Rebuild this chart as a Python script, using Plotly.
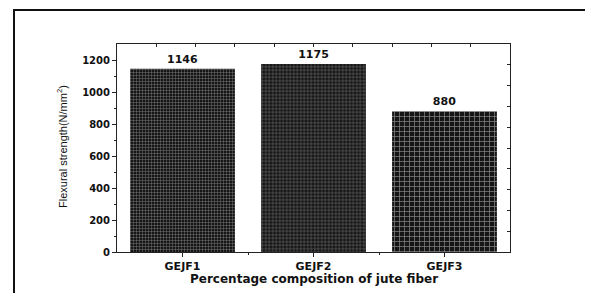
import plotly.graph_objects as go

categories = ["GEJF1", "GEJF2", "GEJF3"]
values = [1146, 1175, 880]
value_labels = ["1146", "1175", "880"]
y_ticks = [0, 200, 400, 600, 800, 1000, 1200]

# page body has an 8px margin; work in page pixels and shift
OFF = 8
W, H = 593 - OFF, 293 - OFF
L, R, T, B = 117 - OFF, 510 - OFF, 44 - OFF, 252 - OFF
PW, PH = R - L, B - T
bold_font = "DejaVu Sans, sans-serif"
reg_font = "Liberation Sans, Arial, sans-serif"


def px(x):
    return (x - OFF - L) / PW


def py(y):
    return (B - (y - OFF)) / PH


xs = list(range(len(categories)))

fig = go.Figure()
fig.add_trace(go.Bar(
    x=xs, y=values, width=0.8,
    text=[f"<b>{t}</b>" for t in value_labels],
    textposition="outside", cliponaxis=False,
    textfont=dict(family=bold_font, size=11, color="#111"),
    marker=dict(
        color="#222",
        line=dict(width=0),
        pattern=dict(shape="+", fillmode="replace", bgcolor="#151515",
                     fgcolor=["#8c8c8c", "#7a7a7a", "#8c8c8c"],
                     size=[3, 3.5, 5], solidity=0.25),
    ),
    showlegend=False,
))
fig.add_trace(go.Scatter(x=[0], y=[0], xaxis="x2", yaxis="y2", mode="markers",
                         marker=dict(opacity=0), showlegend=False, hoverinfo="skip"))

fig.update_layout(
    width=W, height=H,
    margin=dict(l=L, r=W - R, t=T, b=H - B),
    paper_bgcolor="white", plot_bgcolor="white",
    font=dict(family=reg_font, color="#111"),
    xaxis=dict(
        range=[-0.5, 2.5], tickmode="array", tickvals=xs,
        ticktext=[f"<b>{c}</b>" for c in categories],
        tickfont=dict(size=11, family=bold_font), ticks="outside", ticklen=4, tickcolor="#222",
        showline=True, linecolor="#222", linewidth=1, showgrid=False, zeroline=False,
        minor=dict(tickmode="array", tickvals=[0.5, 1.5], ticks="outside", ticklen=2, tickcolor="#222"),
    ),
    yaxis=dict(
        range=[0, 1300], tickmode="array", tickvals=y_ticks,
        ticktext=[f"<b>{v}</b>" for v in y_ticks],
        tickfont=dict(size=10, family=bold_font), ticks="outside", ticklen=4, tickcolor="#222",
        showline=True, linecolor="#222", linewidth=1, showgrid=False, zeroline=False,
        minor=dict(tickmode="array", tickvals=[100, 300, 500, 700, 900, 1100], ticks="outside", ticklen=2, tickcolor="#222"),
    ),
    xaxis2=dict(
        overlaying="x", side="top", range=[-0.5, 2.5], tickmode="linear", tick0=-0.5, dtick=0.3,
        ticks="inside", ticklen=3, tickcolor="#222", showticklabels=False,
        showline=True, linecolor="#222", linewidth=1, showgrid=False, zeroline=False,
    ),
    yaxis2=dict(
        overlaying="y", side="right", range=[0, 1300], tickmode="linear", tick0=0, dtick=130,
        ticks="inside", ticklen=3, tickcolor="#222", showticklabels=False,
        showline=True, linecolor="#222", linewidth=1, showgrid=False, zeroline=False,
    ),
    annotations=[
        dict(text="Flexural strength(N/mm<sup>2</sup>)", xref="paper", yref="paper",
             x=px(62), y=py(147), textangle=-90, showarrow=False,
             font=dict(size=11, family=reg_font, color="#111"), xanchor="center", yanchor="middle"),
        dict(text="<b>Percentage composition of jute fiber</b>", xref="paper", yref="paper",
             x=px(314), y=py(279), showarrow=False,
             font=dict(size=12, family=bold_font, color="#111"), xanchor="center", yanchor="middle"),
    ],
    shapes=[
        dict(type="rect", xref="paper", yref="paper",
             x0=px(14), x1=px(588), y0=py(330), y1=py(10),
             line=dict(color="#111", width=2), fillcolor="rgba(0,0,0,0)", layer="below"),
    ],
)

fig.write_html("out.html")
